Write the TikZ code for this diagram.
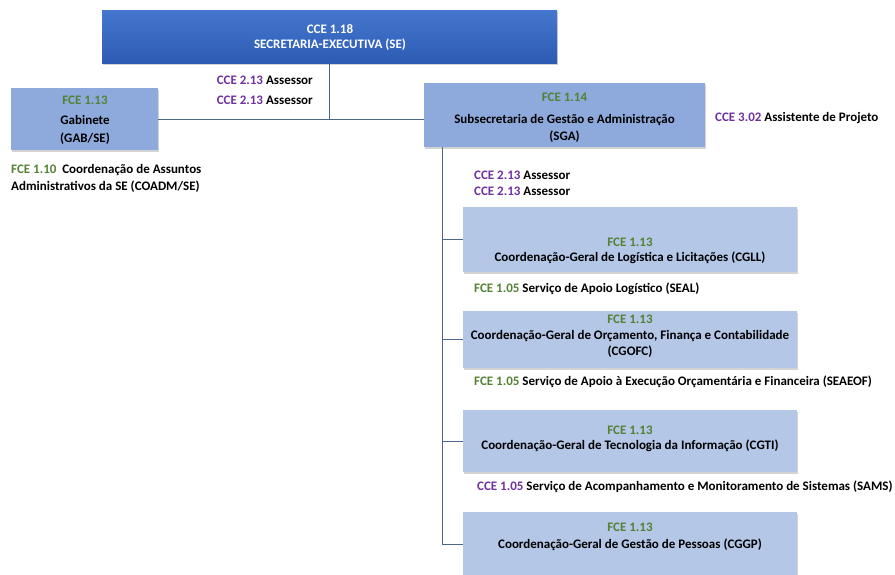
\documentclass[tikz,border=0pt]{standalone}
\usepackage{fontspec}
\setmainfont{Carlito}
\usetikzlibrary{shadows}
\definecolor{seTop}{HTML}{4577CF}
\definecolor{seBot}{HTML}{2D5BB3}
\definecolor{midBlue}{HTML}{8EAADC}
\definecolor{lightBlue}{HTML}{B4C7E7}
\definecolor{fceGreen}{HTML}{548235}
\definecolor{ccePurple}{HTML}{7030A0}
\definecolor{lineBlue}{HTML}{4A6688}
\tikzset{
  base/.style={font=\bfseries\fontsize{13}{15}\selectfont, inner sep=0pt},
  boxshape/.style={rectangle, draw=none, inner sep=0pt, anchor=north west,
    drop shadow={opacity=0.35, shadow xshift=1.2pt, shadow yshift=-2pt}},
  topbox/.style={boxshape, top color=seTop, bottom color=seBot},
  midbox/.style={boxshape, fill=midBlue},
  subbox/.style={boxshape, fill=lightBlue},
  txt/.style={base, text=black},
  ctxt/.style={base, align=center},
  conn/.style={draw=lineBlue, line width=0.8pt},
  fce/.style={text=fceGreen},
  cce/.style={text=ccePurple},
}
\newcommand{\FCE}[1]{\textcolor{fceGreen}{FCE #1}}
\newcommand{\CCE}[1]{\textcolor{ccePurple}{CCE #1}}
\begin{document}
\begin{tikzpicture}[x=1pt,y=-1pt]
\useasboundingbox (0,0) rectangle (895,574);
\clip (0,0) rectangle (895,574);

% boxes
\node[topbox, minimum width=455pt, minimum height=53pt] (se) at (102,10) {};
\node[midbox, minimum width=147pt, minimum height=62pt] (gab) at (11,88) {};
\node[midbox, minimum width=281pt, minimum height=64pt] (sga) at (424,83) {};
\node[subbox, minimum width=334pt, minimum height=65pt] (cgll) at (463,207) {};
\node[subbox, minimum width=334pt, minimum height=57pt] (cgofc) at (463,311) {};
\node[subbox, minimum width=334pt, minimum height=62pt] (cgti) at (463,410) {};
\node[subbox, minimum width=334pt, minimum height=64pt] (cggp) at (463,512) {};

% texts inside boxes
\node[ctxt, text=white] (setxt) at (330,37) {CCE 1.18\\[0pt]SECRETARIA-EXECUTIVA (SE)};
\node[base, fce] (gab1) at (85,100) {FCE 1.13};
\node[txt] (gab2) at (85,119.5) {Gabinete};
\node[txt] (gab3) at (85,139) {(GAB/SE)};
\node[base, fce] (sga1) at (564.5,97) {FCE 1.14};
\node[txt] (sga2) at (564.5,120) {Subsecretaria de Gestão e Administração};
\node[txt] (sga3) at (564.5,137) {(SGA)};
\node[base, fce] (cgll1) at (630,242) {FCE 1.13};
\node[txt] (cgll2) at (630,258) {Coordenação-Geral de Logística e Licitações (CGLL)};
\node[base, fce] (cgofc1) at (630,319.5) {FCE 1.13};
\node[txt] (cgofc2) at (630,336) {Coordenação-Geral de Orçamento, Finança e Contabilidade};
\node[txt] (cgofc3) at (630,352) {(CGOFC)};
\node[base, fce] (cgti1) at (630,430) {FCE 1.13};
\node[txt] (cgti2) at (630,446) {Coordenação-Geral de Tecnologia da Informação (CGTI)};
\node[base, fce] (cggp1) at (630,527) {FCE 1.13};
\node[txt] (cggp2) at (630,545) {Coordenação-Geral de Gestão de Pessoas (CGGP)};

% free-standing labels
\node[txt, anchor=east] (as1) at (313,80) {\CCE{2.13} Assessor};
\node[txt, anchor=east] (as2) at (313,100) {\CCE{2.13} Assessor};
\node[txt, anchor=west] (coadm1) at (11,170) {\FCE{1.10}\ \ Coordenação de Assuntos};
\node[txt, anchor=west] (coadm2) at (11,187) {Administrativos da SE (COADM/SE)};
\node[txt, anchor=west] (proj) at (715,118) {\CCE{3.02} Assistente de Projeto};
\node[txt, anchor=west] (as3) at (474,175) {\CCE{2.13} Assessor};
\node[txt, anchor=west] (as4) at (474,191) {\CCE{2.13} Assessor};
\node[txt, anchor=west] (seal) at (474,289) {\FCE{1.05} Serviço de Apoio Logístico (SEAL)};
\node[txt, anchor=west] (seaeof) at (474,382) {\FCE{1.05} Serviço de Apoio à Execução Orçamentária e Financeira (SEAEOF)};
\node[txt, anchor=west] (sams) at (477,487) {\CCE{1.05} Serviço de Acompanhamento e Monitoramento de Sistemas (SAMS)};

% connectors
\coordinate (jn) at (se.south |- gab.east);
\coordinate (trunk) at (442,0);
\draw[conn] (se.south) -- (jn);
\draw[conn] (gab.east) -- (gab.east -| sga.west);
\draw[conn] (sga.south -| trunk) |- (cggp.west);
\draw[conn] (trunk |- cgll.west) -- (cgll.west);
\draw[conn] (trunk |- cgofc.west) -- (cgofc.west);
\draw[conn] (trunk |- cgti.west) -- (cgti.west);
\end{tikzpicture}
\end{document}
